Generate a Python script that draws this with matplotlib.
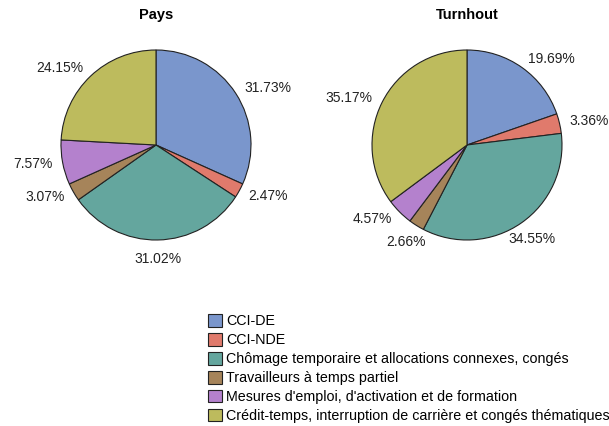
import matplotlib.pyplot as plt
import numpy as np

# categories and values
categories = ["CCI-DE", "CCI-NDE",
              "Chômage temporaire et allocations connexes, congés",
              "Travailleurs à temps partiel",
              "Mesures d'emploi, d'activation et de formation",
              "Crédit-temps, interruption de carrière et congés thématiques"]
pays = [31.73, 2.47, 31.02, 3.07, 7.57, 24.15]
turnhout = [19.69, 3.36, 34.55, 2.66, 4.57, 35.17]
titles = ["Pays", "Turnhout"]
couleurs = ["#7A96CC", "#E07A6C", "#64A69E", "#A6845A", "#B481CD", "#BDBB5D"]

W, H = 609, 426
fig = plt.figure(figsize=(W / 100, H / 100), dpi=100)
plt.rcParams["font.family"] = ["Liberation Sans", "DejaVu Sans"]

R = 95  # rayon en pixels
S = 260  # taille des axes en pixels
centres = [(156, 145), (467, 145)]
handles = None
for (cx, cy), vals, titre in zip(centres, [pays, turnhout], titles):
    ax = fig.add_axes([(cx - S / 2) / W, (H - cy - S / 2) / H, S / W, S / H])
    wedges, texts = ax.pie(
        vals, colors=couleurs, startangle=90, counterclock=False,
        wedgeprops=dict(edgecolor="#222222", linewidth=0.8))
    L = S / 2 / R
    ax.set_xlim(-L, L)
    ax.set_ylim(-L, L)
    # étiquettes en pourcentage autour du camembert
    for w, v in zip(wedges, vals):
        ang = np.deg2rad((w.theta1 + w.theta2) / 2)
        x, y = np.cos(ang), np.sin(ang)
        if y < 0 and abs(x) < 0.6:
            ha, d = "center", 1.2
        else:
            ha, d = ("left" if x > 0 else "right"), 1.11
        ax.text(d * x, d * y, "%.2f%%" % v, ha=ha, va="center",
                fontsize=10, color="#222222")
    fig.text(cx / W, 1 - 15 / H, titre, ha="center", va="center",
             fontsize=10.5, fontweight="bold")
    handles = wedges

fig.legend(handles, categories, loc="upper left",
           bbox_to_anchor=(201 / W, 1 - 307 / H), frameon=False,
           fontsize=10.3, handlelength=0.95, handleheight=1.0,
           handletextpad=0.3, labelspacing=0.32, borderpad=0)

fig.savefig("out.png", dpi=100)
